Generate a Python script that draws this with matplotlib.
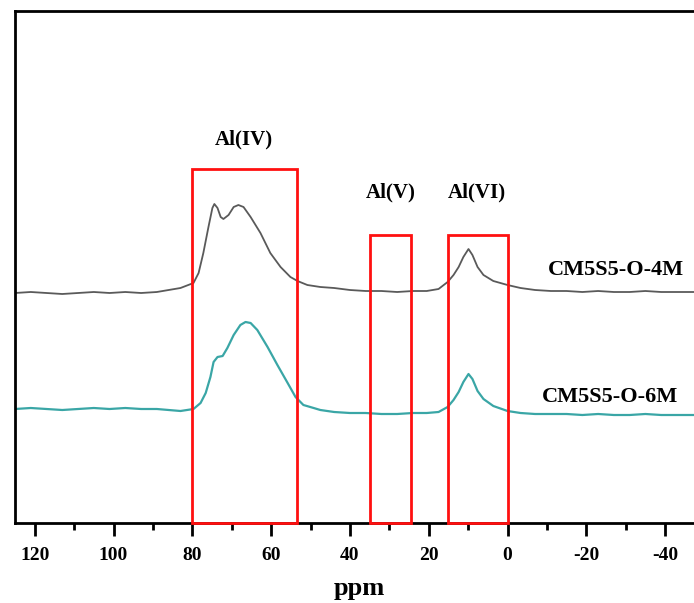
import matplotlib
matplotlib.use("Agg")
import matplotlib.pyplot as plt
from matplotlib.patches import Rectangle
from matplotlib.ticker import MultipleLocator

plt.rcParams["axes.unicode_minus"] = False

# 27Al NMR spectra, chemical shift in ppm (intensity in arbitrary units, already offset)
ppm_4m = [125, 121, 117, 113, 109, 105, 101, 97, 93, 89, 86, 83, 79.7, 78.4, 77.2, 75.9,
          74.9, 74.4, 73.6, 72.8, 72.1, 70.8, 69.5, 68.3, 67.0, 65.2, 62.7, 60.2, 57.6,
          55.1, 53.3, 50.8, 47.5, 44, 40, 36, 32, 28, 24, 20.5, 17.5, 15.2, 13.7, 12.4,
          11.2, 9.9, 8.9, 7.6, 6.1, 3.6, 0, -3.3, -7, -11, -15, -19, -23, -27, -31, -35,
          -39, -43, -47.5]
int_4m = [230, 231, 230, 229, 230, 231, 230, 231, 230, 231, 233, 235, 240, 250, 270, 296,
          315, 319, 315, 306, 304, 308, 316, 318, 316, 306, 290, 270, 256,
          246, 242, 238, 236, 235, 233, 232, 232, 231, 232, 232, 234, 241, 248, 256,
          266, 274, 268, 256, 248, 242, 238, 235, 233, 232, 232, 231, 232, 231, 231, 232,
          231, 231, 231]

ppm_6m = [125, 121, 117, 113, 109, 105, 101, 97, 93, 89, 86, 83, 79.7, 77.9, 76.6, 75.4,
          74.6, 73.6, 72.3, 71.1, 69.5, 67.8, 66.5, 65.2, 63.5, 60.9, 58.4, 55.8, 53.8,
          51.8, 49.2, 47.5, 44, 40, 36, 32, 28, 24, 20.5, 17.5, 15.2, 13.7, 12.4, 11.2,
          9.9, 8.9, 7.6, 6.1, 3.6, 0, -3.3, -7, -11, -15, -19, -23, -27, -31, -35, -39,
          -43, -47.5]
int_6m = [114, 115, 114, 113, 114, 115, 114, 115, 114, 114, 113, 112, 114, 120, 130, 146,
          161, 166, 167, 175, 188, 198, 201, 200, 193, 176, 158, 140, 126,
          118, 115, 113, 111, 110, 110, 109, 109, 110, 110, 111, 116, 123, 131, 141,
          149, 144, 132, 124, 117, 112, 110, 109, 109, 109, 108, 109, 108, 108, 109, 108,
          108, 108]

# coordination regions (ppm range, box height)
regions = ["Al(IV)", "Al(V)", "Al(VI)"]
region_hi = [80, 34.8, 15.2]
region_lo = [53.3, 24.4, 0]
region_top = [354, 288, 288]
region_label_x = [66.8, 29.7, 7.9]
region_label_y = [384, 331, 331]

sample_names = ["CM5S5-O-4M", "CM5S5-O-6M"]
sample_label_x = [-27.4, -25.9]
sample_label_y = [253, 126]

fig = plt.figure(figsize=(6.94, 6.03), dpi=100)
ax = fig.add_axes([15 / 694, 80 / 603, 689.5 / 694, 512 / 603])

ax.plot(ppm_4m, int_4m, color="#5a5a5a", lw=1.3)
ax.plot(ppm_6m, int_6m, color="#3aa6a6", lw=1.6)

for hi, lo, top in zip(region_hi, region_lo, region_top):
    ax.add_patch(Rectangle((lo, 0), hi - lo, top, fill=False, edgecolor="#ff1010",
                           lw=2, zorder=5, clip_on=False))

font = dict(family="Liberation Serif", weight="bold")
for name, x, y in zip(regions, region_label_x, region_label_y):
    ax.text(x, y, name, ha="center", va="center", fontsize=15, **font)
for name, x, y in zip(sample_names, sample_label_x, sample_label_y):
    ax.text(x, y, name, ha="center", va="center", fontsize=16, **font)

ax.set_xlim(125, -50)
ax.set_ylim(0, 512)
ax.xaxis.set_major_locator(MultipleLocator(20))
ax.xaxis.set_minor_locator(MultipleLocator(10))
ax.tick_params(axis="x", which="major", direction="out", length=9, width=2, pad=8)
ax.tick_params(axis="x", which="minor", direction="out", length=5, width=2)
ax.set_yticks([])
for lab in ax.get_xticklabels():
    lab.set_fontfamily("Liberation Serif")
    lab.set_fontweight("bold")
    lab.set_fontsize(14)
for sp in ax.spines.values():
    sp.set_linewidth(2)
ax.set_xlabel("ppm", fontsize=19, labelpad=10, **font)

fig.savefig("out.png", dpi=100)
